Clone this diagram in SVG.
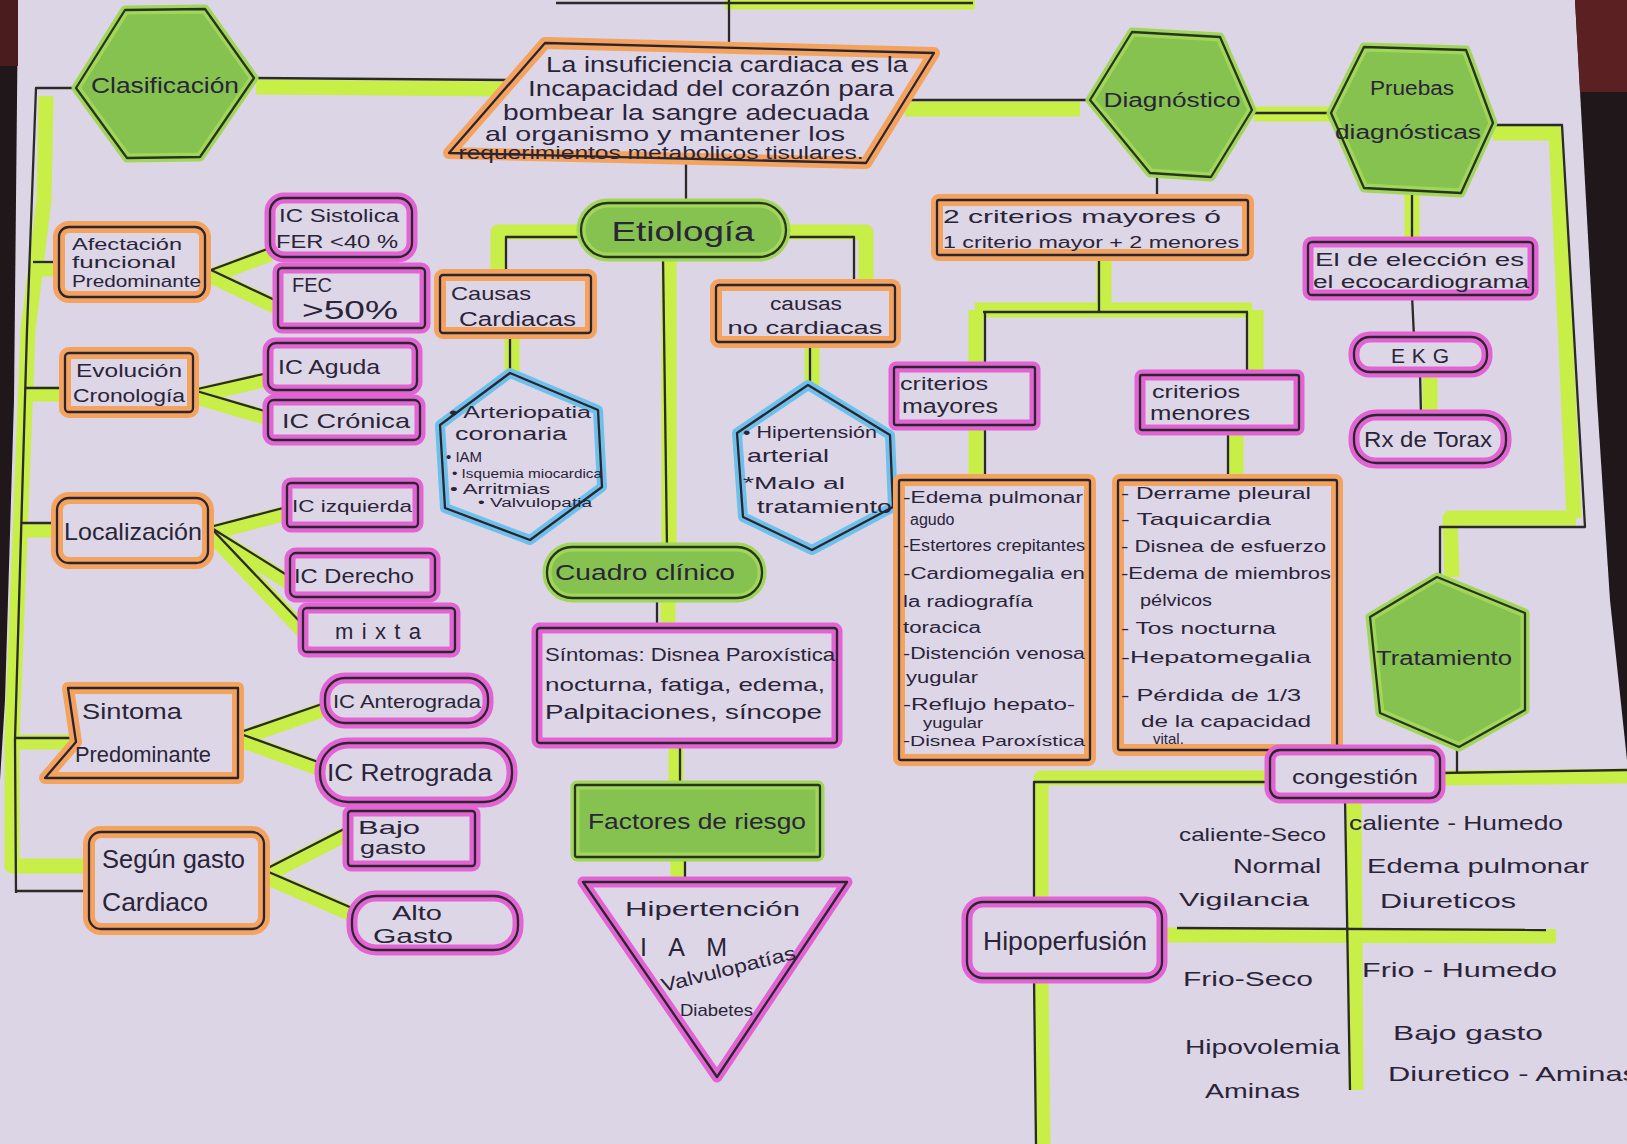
<svg xmlns="http://www.w3.org/2000/svg" width="1627" height="1144" viewBox="0 0 1627 1144">
<defs>
<style>
.hg{fill:none;stroke:#c8ee48;stroke-width:15;stroke-linejoin:round}
.ln{fill:none;stroke:#2a2a28;stroke-width:2.3;stroke-linejoin:round}
.ho{fill:#ddd6e7;stroke:#f4a35e;stroke-width:12;stroke-linejoin:round}
.hp{fill:#ddd6e7;stroke:#e164d2;stroke-width:11;stroke-linejoin:round}
.hb{fill:#ddd6e7;stroke:#6cc0ea;stroke-width:10;stroke-linejoin:round}
.gg{fill:#86c24f;stroke:#a2d65a;stroke-width:9;stroke-linejoin:round}
.ol{fill:none;stroke:#2c2430;stroke-width:2.3;stroke-linejoin:round}
.og{fill:none;stroke:#26361e;stroke-width:2.3;stroke-linejoin:round}
text{font-family:"Liberation Sans","DejaVu Sans",sans-serif;fill:#2a2438}
.c{text-anchor:middle}
</style>
</defs>
<rect width="1627" height="1144" fill="#dcd5e6"/>
<polygon points="0,0 18,0 14,400 5,700 0,780" fill="#1f171a"/>
<polygon points="0,0 18,0 18,66 0,66" fill="#4a1c1e"/>
<polygon points="1575,0 1627,0 1627,760 1610,600 1597,400" fill="#1f171a"/>
<polygon points="1575,0 1627,0 1627,92 1580,92" fill="#5a2022"/>

<g id="connectors">
<g class="hg">
<path d="M725,2 L975,2"/>
<path d="M256,87 L507,89"/>
<path d="M46,96 L44,200 L28,330 L12,740 L12,866 L89,866"/>
<path d="M30,269 L59,269"/>
<path d="M22,394 L65,394"/>
<path d="M18,530 L57,530"/>
<path d="M14,742 L72,742"/>
<path d="M211,276 L270,254"/>
<path d="M211,276 L279,308"/>
<path d="M193,396 L268,379"/>
<path d="M193,396 L268,418"/>
<path d="M210,533 L287,513"/>
<path d="M210,533 L290,583"/>
<path d="M210,533 L303,631"/>
<path d="M238,739 L325,709"/>
<path d="M238,739 L321,769"/>
<path d="M264,876 L348,833"/>
<path d="M264,876 L352,914"/>
<path d="M581,232 L498,232 L498,275"/>
<path d="M786,232 L866,232 L866,285"/>
<path d="M669,257 L669,547"/>
<path d="M668,598 L668,628"/>
<path d="M676,743 L676,785"/>
<path d="M678,857 L678,882"/>
<path d="M512,333 L512,373"/>
<path d="M812,342 L812,385"/>
<path d="M905,109 L1080,109"/>
<path d="M1254,114 L1331,114"/>
<path d="M1493,133 L1556,133 L1574,518 M1576,518 L1450,518 L1452,577"/>
<path d="M1104,255 L1104,308 M975,310 L1252,310 M976,310 L976,367 M1256,310 L1256,375"/>
<path d="M976,425 L976,480"/>
<path d="M1236,430 L1236,480"/>
<path d="M1412,193 L1412,242"/>
<path d="M1430,372 L1430,415"/>
<path d="M1445,778 L1627,776"/>
<path d="M1270,778 L1041,778 L1041,903 M1041,978 L1043,1144"/>
<path d="M1354,798 L1356,1090"/>
<path d="M1165,935 L1556,936"/>
</g>
<g class="ln">
<path d="M556,3 L973,3"/>
<path d="M729,0 L729,43"/>
<path d="M254,78 L513,80"/>
<path d="M76,88 L36,88 L27,330 L15,740 L16,893"/>
<path d="M33,262 L59,262"/>
<path d="M26,388 L65,388"/>
<path d="M22,523 L57,523"/>
<path d="M15,738 L74,738"/>
<path d="M16,891 L89,891"/>
<path d="M211,270 L270,248"/>
<path d="M211,270 L279,302"/>
<path d="M193,390 L268,373"/>
<path d="M193,390 L268,412"/>
<path d="M210,527 L287,507"/>
<path d="M210,527 L290,577"/>
<path d="M210,527 L303,625"/>
<path d="M238,733 L325,703"/>
<path d="M238,733 L321,763"/>
<path d="M264,870 L348,827"/>
<path d="M264,870 L352,908"/>
<path d="M686,163 L686,203"/>
<path d="M581,237 L506,237 L506,275"/>
<path d="M786,237 L854,237 L854,285"/>
<path d="M663,257 L667,547"/>
<path d="M510,333 L510,373"/>
<path d="M810,342 L810,385"/>
<path d="M657,598 L657,628"/>
<path d="M680,743 L680,785"/>
<path d="M685,857 L685,882"/>
<path d="M905,100 L1090,100"/>
<path d="M1252,113 L1331,113"/>
<path d="M1493,125 L1562,125 L1585,527 L1440,527 L1440,577"/>
<path d="M1157,177 L1157,200"/>
<path d="M1099,255 L1099,312 M983,312 L1248,312 M985,312 L985,367 M1247,312 L1247,375"/>
<path d="M985,425 L985,480"/>
<path d="M1228,430 L1228,480"/>
<path d="M1412,193 L1412,242"/>
<path d="M1412,295 L1414,337"/>
<path d="M1420,372 L1421,415"/>
<path d="M1457,747 L1457,773"/>
<path d="M1440,773 L1627,770"/>
<path d="M1270,782 L1034,782 L1034,903"/>
<path d="M1034,978 L1036,1144"/>
<path d="M1345,798 L1350,1090"/>
<path d="M1177,928 L1546,930"/>
</g>
</g>

<g id="n-clasificacion">
<polygon class="gg" points="76,88 125,10 205,9 254,78 200,157 127,158"/>
<polygon class="og" points="76,88 125,10 205,9 254,78 200,157 127,158"/>
<text class="c" x="165" y="93" font-size="22" textLength="148" lengthAdjust="spacingAndGlyphs">Clasificación</text>
</g>

<g id="n-definicion">
<polygon class="ho" points="545,43 934,53 866,163 449,153"/>
<polygon class="ol" points="545,43 934,53 866,163 449,153"/>
<text class="c" x="727" y="72" font-size="22" textLength="362" lengthAdjust="spacingAndGlyphs">La insuficiencia cardiaca es la</text>
<text class="c" x="711" y="96" font-size="22" textLength="366" lengthAdjust="spacingAndGlyphs">Incapacidad del corazón para</text>
<text class="c" x="686" y="120" font-size="22" textLength="366" lengthAdjust="spacingAndGlyphs">bombear la sangre adecuada</text>
<text class="c" x="665" y="141" font-size="21" textLength="360" lengthAdjust="spacingAndGlyphs">al organismo y mantener los</text>
<text class="c" x="661" y="159" font-size="18" textLength="405" lengthAdjust="spacingAndGlyphs">requerimientos metabolicos tisulares.</text>
</g>

<g id="n-etiologia">
<rect class="gg" x="581" y="203" width="205" height="54" rx="27"/>
<rect class="og" x="581" y="203" width="205" height="54" rx="27"/>
<text class="c" x="683" y="241" font-size="28" textLength="143" lengthAdjust="spacingAndGlyphs">Etiología</text>
</g>

<g id="n-afectacion">
<rect class="ho" x="59" y="227" width="146" height="70" rx="10"/>
<rect class="ol" x="59" y="227" width="146" height="70" rx="10"/>
<text x="72" y="250" font-size="17" textLength="110" lengthAdjust="spacingAndGlyphs">Afectación</text>
<text x="72" y="268" font-size="17" textLength="104" lengthAdjust="spacingAndGlyphs">funcional</text>
<text x="72" y="287" font-size="17" textLength="129" lengthAdjust="spacingAndGlyphs">Predominante</text>
</g>

<g id="n-sistolica">
<rect class="hp" x="270" y="198" width="142" height="59" rx="14"/>
<rect class="ol" x="270" y="198" width="142" height="59" rx="14"/>
<text x="279" y="222" font-size="18" textLength="120" lengthAdjust="spacingAndGlyphs">IC Sistolica</text>
<text x="276" y="248" font-size="18" textLength="122" lengthAdjust="spacingAndGlyphs">FER &lt;40 %</text>
</g>

<g id="n-fec">
<rect class="hp" x="278" y="268" width="147" height="60" rx="4"/>
<rect class="ol" x="278" y="268" width="147" height="60" rx="4"/>
<text x="292" y="292" font-size="20">FEC</text>
<text x="302" y="319" font-size="26" textLength="96" lengthAdjust="spacingAndGlyphs">&gt;50%</text>
</g>

<g id="n-evolucion">
<rect class="ho" x="65" y="353" width="128" height="59" rx="4"/>
<rect class="ol" x="65" y="353" width="128" height="59" rx="4"/>
<text x="76" y="377" font-size="18" textLength="106" lengthAdjust="spacingAndGlyphs">Evolución</text>
<text x="73" y="402" font-size="18" textLength="112" lengthAdjust="spacingAndGlyphs">Cronología</text>
</g>

<g id="n-aguda">
<rect class="hp" x="268" y="343" width="149" height="47" rx="8"/>
<rect class="ol" x="268" y="343" width="149" height="47" rx="8"/>
<text x="278" y="374" font-size="21" textLength="102" lengthAdjust="spacingAndGlyphs">IC Aguda</text>
</g>

<g id="n-cronica">
<rect class="hp" x="268" y="400" width="152" height="40" rx="6"/>
<rect class="ol" x="268" y="400" width="152" height="40" rx="6"/>
<text x="282" y="428" font-size="21" textLength="128" lengthAdjust="spacingAndGlyphs">IC Crónica</text>
</g>

<g id="n-localizacion">
<rect class="ho" x="57" y="498" width="151" height="65" rx="12"/>
<rect class="ol" x="57" y="498" width="151" height="65" rx="12"/>
<text x="64" y="540" font-size="24" textLength="138" lengthAdjust="spacingAndGlyphs">Localización</text>
</g>

<g id="n-izquierda">
<rect class="hp" x="287" y="483" width="131" height="44" rx="4"/>
<rect class="ol" x="287" y="483" width="131" height="44" rx="4"/>
<text x="292" y="512" font-size="17" textLength="120" lengthAdjust="spacingAndGlyphs">IC izquierda</text>
</g>

<g id="n-derecho">
<rect class="hp" x="290" y="553" width="145" height="44" rx="6"/>
<rect class="ol" x="290" y="553" width="145" height="44" rx="6"/>
<text x="294" y="583" font-size="21" textLength="120" lengthAdjust="spacingAndGlyphs">IC Derecho</text>
</g>

<g id="n-mixta">
<rect class="hp" x="303" y="608" width="152" height="44" rx="4"/>
<rect class="ol" x="303" y="608" width="152" height="44" rx="4"/>
<text class="c" x="378" y="639" font-size="22" textLength="86" lengthAdjust="spacing">mixta</text>
</g>

<g id="n-sintoma">
<polygon class="ho" points="68,688 238,688 238,778 45,778 76,742"/>
<polygon class="ol" points="68,688 238,688 238,778 45,778 76,742"/>
<text x="82" y="719" font-size="22" textLength="100" lengthAdjust="spacingAndGlyphs">Sintoma</text>
<text x="75" y="762" font-size="22" textLength="136" lengthAdjust="spacingAndGlyphs">Predominante</text>
</g>

<g id="n-anterograda">
<rect class="hp" x="325" y="678" width="163" height="45" rx="20"/>
<rect class="ol" x="325" y="678" width="163" height="45" rx="20"/>
<text x="333" y="708" font-size="19" textLength="148" lengthAdjust="spacingAndGlyphs">IC Anterograda</text>
</g>

<g id="n-retrograda">
<rect class="hp" x="320" y="743" width="192" height="59" rx="28"/>
<rect class="ol" x="320" y="743" width="192" height="59" rx="28"/>
<text x="327" y="781" font-size="23" textLength="165" lengthAdjust="spacingAndGlyphs">IC Retrograda</text>
</g>

<g id="n-segun">
<rect class="ho" x="89" y="832" width="175" height="97" rx="12"/>
<rect class="ol" x="89" y="832" width="175" height="97" rx="12"/>
<text x="102" y="868" font-size="25" textLength="143" lengthAdjust="spacingAndGlyphs">Según gasto</text>
<text x="102" y="911" font-size="25" textLength="106" lengthAdjust="spacingAndGlyphs">Cardiaco</text>
</g>

<g id="n-bajo">
<rect class="hp" x="348" y="811" width="127" height="55" rx="3"/>
<rect class="ol" x="348" y="811" width="127" height="55" rx="3"/>
<text x="358" y="834" font-size="19" textLength="62" lengthAdjust="spacingAndGlyphs">Bajo</text>
<text x="360" y="854" font-size="19" textLength="66" lengthAdjust="spacingAndGlyphs">gasto</text>
</g>

<g id="n-alto">
<rect class="hp" x="352" y="896" width="166" height="54" rx="24"/>
<rect class="ol" x="352" y="896" width="166" height="54" rx="24"/>
<text class="c" x="417" y="920" font-size="20" textLength="50" lengthAdjust="spacingAndGlyphs">Alto</text>
<text class="c" x="413" y="943" font-size="21" textLength="80" lengthAdjust="spacingAndGlyphs">Gasto</text>
</g>

<g id="n-causas-cardiacas">
<rect class="ho" x="440" y="275" width="151" height="58" rx="3"/>
<rect class="ol" x="440" y="275" width="151" height="58" rx="3"/>
<text x="451" y="300" font-size="19" textLength="80" lengthAdjust="spacingAndGlyphs">Causas</text>
<text x="459" y="326" font-size="20" textLength="117" lengthAdjust="spacingAndGlyphs">Cardiacas</text>
</g>

<g id="n-causas-no">
<rect class="ho" x="716" y="285" width="179" height="57" rx="3"/>
<rect class="ol" x="716" y="285" width="179" height="57" rx="3"/>
<text class="c" x="806" y="310" font-size="18" textLength="72" lengthAdjust="spacingAndGlyphs">causas</text>
<text class="c" x="805" y="334" font-size="19" textLength="155" lengthAdjust="spacingAndGlyphs">no cardiacas</text>
</g>

<g id="n-hex-cardiacas">
<polygon class="hb" points="510,373 598,410 602,487 530,540 445,508 440,425"/>
<polygon class="ol" points="510,373 598,410 602,487 530,540 445,508 440,425"/>
<text x="449" y="418" font-size="16" textLength="142" lengthAdjust="spacingAndGlyphs">• Arteriopatia</text>
<text x="455" y="440" font-size="18" textLength="112" lengthAdjust="spacingAndGlyphs">coronaria</text>
<text x="446" y="462" font-size="15">• IAM</text>
<text x="452" y="478" font-size="12" textLength="150" lengthAdjust="spacingAndGlyphs">• Isquemia miocardica</text>
<text x="450" y="494" font-size="14" textLength="100" lengthAdjust="spacingAndGlyphs">• Arritmias</text>
<text x="478" y="507" font-size="12" textLength="114" lengthAdjust="spacingAndGlyphs">• Valvulopatia</text>
</g>

<g id="n-hex-nocardiacas">
<polygon class="hb" points="808,385 890,435 893,507 812,550 743,517 737,433"/>
<polygon class="ol" points="808,385 890,435 893,507 812,550 743,517 737,433"/>
<text x="743" y="438" font-size="17" textLength="134" lengthAdjust="spacingAndGlyphs">• Hipertensión</text>
<text x="747" y="462" font-size="19" textLength="82" lengthAdjust="spacingAndGlyphs">arterial</text>
<text x="743" y="489" font-size="16" textLength="102" lengthAdjust="spacingAndGlyphs">*Malo al</text>
<text x="757" y="513" font-size="19" textLength="135" lengthAdjust="spacingAndGlyphs">tratamiento</text>
</g>

<g id="n-cuadro">
<rect class="gg" x="547" y="547" width="215" height="51" rx="25"/>
<rect class="og" x="547" y="547" width="215" height="51" rx="25"/>
<text x="555" y="580" font-size="22" textLength="180" lengthAdjust="spacingAndGlyphs">Cuadro clínico</text>
</g>

<g id="n-sintomas">
<rect class="hp" x="537" y="628" width="300" height="115" rx="3"/>
<rect class="ol" x="537" y="628" width="300" height="115" rx="3"/>
<text x="545" y="661" font-size="19" textLength="290" lengthAdjust="spacingAndGlyphs">Síntomas: Disnea Paroxística</text>
<text x="545" y="691" font-size="19" textLength="280" lengthAdjust="spacingAndGlyphs">nocturna, fatiga, edema,</text>
<text x="545" y="719" font-size="21" textLength="277" lengthAdjust="spacingAndGlyphs">Palpitaciones, síncope</text>
</g>

<g id="n-factores">
<rect class="gg" x="575" y="785" width="245" height="72" rx="2"/>
<rect class="og" x="575" y="785" width="245" height="72" rx="2"/>
<text x="588" y="829" font-size="22" textLength="218" lengthAdjust="spacingAndGlyphs">Factores de riesgo</text>
</g>

<g id="n-riesgos">
<polygon class="hp" points="583,882 847,882 717,1077"/>
<polygon class="ol" points="583,882 847,882 717,1077"/>
<text x="625" y="916" font-size="21" textLength="175" lengthAdjust="spacingAndGlyphs">Hipertención</text>
<text x="640" y="956" font-size="25" textLength="87" lengthAdjust="spacing">IAM</text>
<text x="663" y="992" font-size="19" textLength="138" lengthAdjust="spacingAndGlyphs" transform="rotate(-14 663 992)">Valvulopatías</text>
<text x="680" y="1016" font-size="17" textLength="73" lengthAdjust="spacingAndGlyphs">Diabetes</text>
</g>

<g id="n-diagnostico">
<polygon class="gg" points="1090,100 1132,32 1220,37 1252,110 1211,177 1150,173"/>
<polygon class="og" points="1090,100 1132,32 1220,37 1252,110 1211,177 1150,173"/>
<text class="c" x="1172" y="107" font-size="20" textLength="137" lengthAdjust="spacingAndGlyphs">Diagnóstico</text>
</g>

<g id="n-pruebas">
<polygon class="gg" points="1331,113 1364,47 1466,50 1493,123 1461,193 1364,188"/>
<polygon class="og" points="1331,113 1364,47 1466,50 1493,123 1461,193 1364,188"/>
<text class="c" x="1412" y="95" font-size="20" textLength="84" lengthAdjust="spacingAndGlyphs">Pruebas</text>
<text class="c" x="1408" y="139" font-size="20" textLength="146" lengthAdjust="spacingAndGlyphs">diagnósticas</text>
</g>

<g id="n-criterios">
<rect class="ho" x="937" y="200" width="311" height="55" rx="2"/>
<rect class="ol" x="937" y="200" width="311" height="55" rx="2"/>
<text x="943" y="223" font-size="19" textLength="278" lengthAdjust="spacingAndGlyphs">2 criterios mayores ó</text>
<text x="943" y="248" font-size="16" textLength="296" lengthAdjust="spacingAndGlyphs">1 criterio mayor + 2 menores</text>
</g>

<g id="n-eleccion">
<rect class="hp" x="1308" y="242" width="225" height="53" rx="4"/>
<rect class="ol" x="1308" y="242" width="225" height="53" rx="4"/>
<text x="1315" y="266" font-size="19" textLength="209" lengthAdjust="spacingAndGlyphs">El de elección es</text>
<text x="1313" y="288" font-size="18" textLength="216" lengthAdjust="spacingAndGlyphs">el ecocardiograma</text>
</g>

<g id="n-ekg">
<rect class="hp" x="1354" y="337" width="133" height="35" rx="16"/>
<rect class="ol" x="1354" y="337" width="133" height="35" rx="16"/>
<text class="c" x="1420" y="363" font-size="21" textLength="58" lengthAdjust="spacing">EKG</text>
</g>

<g id="n-rx">
<rect class="hp" x="1354" y="415" width="152" height="48" rx="22"/>
<rect class="ol" x="1354" y="415" width="152" height="48" rx="22"/>
<text class="c" x="1428" y="447" font-size="22" textLength="128" lengthAdjust="spacingAndGlyphs">Rx de Torax</text>
</g>

<g id="n-mayores">
<rect class="hp" x="894" y="367" width="141" height="58" rx="2"/>
<rect class="ol" x="894" y="367" width="141" height="58" rx="2"/>
<text x="900" y="390" font-size="18" textLength="88" lengthAdjust="spacingAndGlyphs">criterios</text>
<text x="902" y="413" font-size="20" textLength="96" lengthAdjust="spacingAndGlyphs">mayores</text>
</g>

<g id="n-menores">
<rect class="hp" x="1140" y="375" width="159" height="55" rx="2"/>
<rect class="ol" x="1140" y="375" width="159" height="55" rx="2"/>
<text x="1152" y="398" font-size="18" textLength="88" lengthAdjust="spacingAndGlyphs">criterios</text>
<text x="1150" y="420" font-size="20" textLength="100" lengthAdjust="spacingAndGlyphs">menores</text>
</g>

<g id="n-lista-mayores">
<rect class="ho" x="899" y="480" width="191" height="280" rx="2"/>
<rect class="ol" x="899" y="480" width="191" height="280" rx="2"/>
<g font-size="16">
<text x="903" y="503" textLength="180" lengthAdjust="spacingAndGlyphs">-Edema pulmonar</text>
<text x="910" y="525">agudo</text>
<text x="903" y="551" textLength="182" lengthAdjust="spacingAndGlyphs">-Estertores crepitantes</text>
<text x="903" y="579" textLength="182" lengthAdjust="spacingAndGlyphs">-Cardiomegalia en</text>
<text x="903" y="607" textLength="130" lengthAdjust="spacingAndGlyphs">la radiografía</text>
<text x="903" y="633" textLength="78" lengthAdjust="spacingAndGlyphs">toracica</text>
<text x="903" y="659" textLength="182" lengthAdjust="spacingAndGlyphs">-Distención venosa</text>
<text x="906" y="683" textLength="72" lengthAdjust="spacingAndGlyphs">yugular</text>
<text x="903" y="710" textLength="172" lengthAdjust="spacingAndGlyphs">-Reflujo hepato-</text>
<text x="923" y="728" font-size="14" textLength="60" lengthAdjust="spacingAndGlyphs">yugular</text>
<text x="903" y="746" font-size="14" textLength="182" lengthAdjust="spacingAndGlyphs">-Disnea Paroxística</text>
</g>
</g>

<g id="n-lista-menores">
<rect class="ho" x="1118" y="480" width="219" height="270" rx="2"/>
<rect class="ol" x="1118" y="480" width="219" height="270" rx="2"/>
<g font-size="17">
<text x="1121" y="499" textLength="190" lengthAdjust="spacingAndGlyphs">- Derrame pleural</text>
<text x="1121" y="525" textLength="150" lengthAdjust="spacingAndGlyphs">- Taquicardia</text>
<text x="1121" y="552" textLength="205" lengthAdjust="spacingAndGlyphs">- Disnea de esfuerzo</text>
<text x="1121" y="579" textLength="210" lengthAdjust="spacingAndGlyphs">-Edema de miembros</text>
<text x="1140" y="606" textLength="72" lengthAdjust="spacingAndGlyphs">pélvicos</text>
<text x="1121" y="634" textLength="155" lengthAdjust="spacingAndGlyphs">- Tos nocturna</text>
<text x="1121" y="663" textLength="190" lengthAdjust="spacingAndGlyphs">-Hepatomegalia</text>
<text x="1121" y="701" textLength="180" lengthAdjust="spacingAndGlyphs">- Pérdida de 1/3</text>
<text x="1141" y="727" textLength="170" lengthAdjust="spacingAndGlyphs">de la capacidad</text>
<text x="1153" y="744" font-size="15">vital.</text>
</g>
</g>

<g id="n-tratamiento">
<polygon class="gg" points="1437,577 1525,613 1525,710 1459,747 1380,713 1370,617"/>
<polygon class="og" points="1437,577 1525,613 1525,710 1459,747 1380,713 1370,617"/>
<text x="1376" y="665" font-size="20" textLength="136" lengthAdjust="spacingAndGlyphs">Tratamiento</text>
</g>

<g id="n-congestion">
<rect class="hp" x="1270" y="750" width="170" height="48" rx="10"/>
<rect class="ol" x="1270" y="750" width="170" height="48" rx="10"/>
<text class="c" x="1355" y="784" font-size="21" textLength="126" lengthAdjust="spacingAndGlyphs">congestión</text>
</g>

<g id="n-hipoperfusion">
<rect class="hp" x="967" y="902" width="195" height="76" rx="16"/>
<rect class="ol" x="967" y="902" width="195" height="76" rx="16"/>
<text class="c" x="1065" y="950" font-size="25" textLength="164" lengthAdjust="spacingAndGlyphs">Hipoperfusión</text>
</g>

<g id="matriz" font-size="21">
<text x="1179" y="841" font-size="19" textLength="147" lengthAdjust="spacingAndGlyphs">caliente-Seco</text>
<text x="1233" y="873" textLength="88" lengthAdjust="spacingAndGlyphs">Normal</text>
<text x="1179" y="906" font-size="19" textLength="130" lengthAdjust="spacingAndGlyphs">Vigilancia</text>
<text x="1349" y="830" textLength="214" lengthAdjust="spacingAndGlyphs">caliente - Humedo</text>
<text x="1367" y="873" textLength="222" lengthAdjust="spacingAndGlyphs">Edema pulmonar</text>
<text x="1380" y="908" textLength="136" lengthAdjust="spacingAndGlyphs">Diureticos</text>
<text x="1183" y="986" textLength="130" lengthAdjust="spacingAndGlyphs">Frio-Seco</text>
<text x="1362" y="977" textLength="195" lengthAdjust="spacingAndGlyphs">Frio - Humedo</text>
<text x="1185" y="1054" textLength="155" lengthAdjust="spacingAndGlyphs">Hipovolemia</text>
<text x="1393" y="1040" textLength="150" lengthAdjust="spacingAndGlyphs">Bajo gasto</text>
<text x="1205" y="1098" textLength="95" lengthAdjust="spacingAndGlyphs">Aminas</text>
<text x="1388" y="1081" textLength="250" lengthAdjust="spacingAndGlyphs">Diuretico - Aminas</text>
</g>
</svg>
